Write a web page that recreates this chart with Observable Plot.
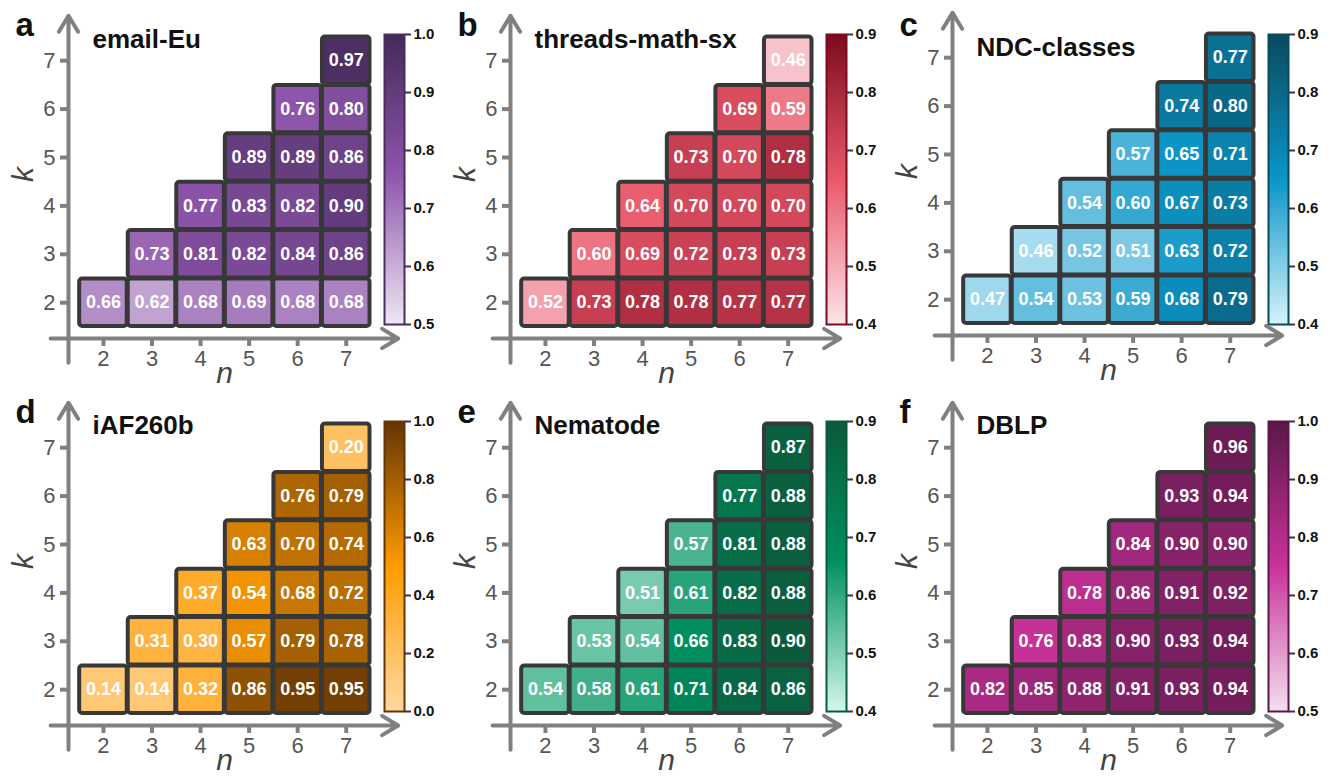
<!DOCTYPE html>
<html><head><meta charset="utf-8">
<script src="https://cdn.jsdelivr.net/npm/d3@7"></script>
<script src="https://cdn.jsdelivr.net/npm/@observablehq/plot@0.6"></script>
<style>
body{margin:0;background:#fff;}
#root{position:relative;width:1331px;height:776px;overflow:hidden;background:#fff;}
#root svg{position:absolute;}
</style></head><body><div id="root"></div>
<script>
// ---------- data ----------
const nValues = [2, 3, 4, 5, 6, 7];
const kValues = [2, 3, 4, 5, 6, 7];
const panelLetters = ["a", "b", "c", "d", "e", "f"];
const panelTitles = ["email-Eu", "threads-math-sx", "NDC-classes", "iAF260b", "Nematode", "DBLP"];
// each row is one k (2..7); the row lists n = k..7
const emailEu = [[0.66,0.62,0.68,0.69,0.68,0.68],[0.73,0.81,0.82,0.84,0.86],[0.77,0.83,0.82,0.90],[0.89,0.89,0.86],[0.76,0.80],[0.97]];
const threadsMathSx = [[0.52,0.73,0.78,0.78,0.77,0.77],[0.60,0.69,0.72,0.73,0.73],[0.64,0.70,0.70,0.70],[0.73,0.70,0.78],[0.69,0.59],[0.46]];
const ndcClasses = [[0.47,0.54,0.53,0.59,0.68,0.79],[0.46,0.52,0.51,0.63,0.72],[0.54,0.60,0.67,0.73],[0.57,0.65,0.71],[0.74,0.80],[0.77]];
const iAF260b = [[0.14,0.14,0.32,0.86,0.95,0.95],[0.31,0.30,0.57,0.79,0.78],[0.37,0.54,0.68,0.72],[0.63,0.70,0.74],[0.76,0.79],[0.20]];
const nematode = [[0.54,0.58,0.61,0.71,0.84,0.86],[0.53,0.54,0.66,0.83,0.90],[0.51,0.61,0.82,0.88],[0.57,0.81,0.88],[0.77,0.88],[0.87]];
const dblp = [[0.82,0.85,0.88,0.91,0.93,0.94],[0.76,0.83,0.90,0.93,0.94],[0.78,0.86,0.91,0.92],[0.84,0.90,0.90],[0.93,0.94],[0.96]];
const panelValues = [emailEu, threadsMathSx, ndcClasses, iAF260b, nematode, dblp];
const colorbarDomains = [[0.5,1.0],[0.4,0.9],[0.4,0.9],[0.0,1.0],[0.4,0.9],[0.5,1.0]];
const colorbarTicks = [
  [0.5,0.6,0.7,0.8,0.9,1.0],
  [0.4,0.5,0.6,0.7,0.8,0.9],
  [0.4,0.5,0.6,0.7,0.8,0.9],
  [0.0,0.2,0.4,0.6,0.8,1.0],
  [0.4,0.5,0.6,0.7,0.8,0.9],
  [0.5,0.6,0.7,0.8,0.9,1.0]
];

// ---------- styles ----------
const FONT = '"Liberation Sans", Arial, sans-serif';
const palettes = [
  {mid: 0.76, colors: ["#ede6f2", "#8d55ab", "#442a5a"], border: "#4a2c5e"},
  {mid: 0.65, colors: ["#fde4e8", "#e9586a", "#7c0a1e"], border: "#7c0a1e"},
  {mid: 0.65, colors: ["#d6f2fc", "#0b95c7", "#0a4a5d"], border: "#0a4a5d"},
  {mid: 0.50, colors: ["#ffd9a2", "#ff9b00", "#643505"], border: "#643505"},
  {mid: 0.66, colors: ["#d2f7eb", "#00905f", "#0b5a3c"], border: "#0b5a3c"},
  {mid: 0.75, colors: ["#f4dfee", "#c9329a", "#5b1748"], border: "#5b1748"}
];
const panelShiftY = [0, 0, -3, 0, 0, 0];
const titleBaseline = [47, 47, 58, 46, 46, 46];
const W = 440, H = 388;
const X_DOMAIN = [1.28, 7.5], Y_DOMAIN = [1.26, 7.5];
const axisLines = [
  {x1: 0.91, y1: 1.26, x2: 8.07, y2: 1.26},
  {x1: 1.28, y1: 0.76, x2: 1.28, y2: 7.93}
];
const AXIS_GREY = "#808080";
const root = document.getElementById("root");

function colorSpec(i) {
  const [lo, hi] = colorbarDomains[i];
  const p = palettes[i];
  return {type: "linear", domain: [lo, p.mid, hi], range: p.colors, clamp: true};
}

function mainPlot(i) {
  const cells = [];
  panelValues[i].forEach((row, r) => row.forEach((v, j) => cells.push({k: kValues[r], n: kValues[r] + j, v})));
  const fs = 26;
  return Plot.plot({
    width: W, height: H,
    marginLeft: 68, marginRight: 70, marginTop: 36, marginBottom: 50,
    style: {background: "transparent", overflow: "visible", fontFamily: FONT},
    x: {domain: X_DOMAIN},
    y: {domain: Y_DOMAIN},
    color: colorSpec(i),
    marks: [
      Plot.arrow(axisLines, {x1: "x1", y1: "y1", x2: "x2", y2: "y2", stroke: AXIS_GREY, strokeWidth: 4, headAngle: 62, headLength: 7}),
      Plot.axisX({ticks: nValues, tickSize: 8, tickPadding: 4, fontSize: 22, stroke: AXIS_GREY, fill: "#555", strokeWidth: 4, label: null, tickFormat: d => String(d)}),
      Plot.axisY({ticks: kValues, tickSize: 8, tickPadding: 5, fontSize: 22, stroke: AXIS_GREY, fill: "#555", strokeWidth: 4, label: null, tickFormat: d => String(d)}),
      Plot.rect(cells, {x1: d => d.n - 0.5, x2: d => d.n + 0.5, y1: d => d.k - 0.5, y2: d => d.k + 0.5, fill: "v", stroke: "#383838", strokeWidth: 4, inset: 0.5, rx: 3}),
      Plot.text(cells, {x: "n", y: "k", text: d => d.v.toFixed(2), fill: "white", fontWeight: "bold", fontSize: 18}),
      Plot.text([panelTitles[i]], {text: d => d, frameAnchor: "top-left", textAnchor: "start", lineAnchor: "middle", dx: 24, dy: titleBaseline[i] - 0.32 * fs - 36, fontSize: fs, fontWeight: "bold", fill: "#111"}),
      Plot.text([panelLetters[i]], {text: d => d, frameAnchor: "top-left", textAnchor: "start", lineAnchor: "middle", dx: -53, dy: 35 - 0.32 * 33 - 36 - panelShiftY[i], fontSize: 33, fontWeight: "bold", fill: "#111"}),
      Plot.text(["k"], {text: d => d, frameAnchor: "top-left", textAnchor: "middle", lineAnchor: "middle", rotate: -90, dx: -45, dy: 174 - 36, fontSize: 30, fontStyle: "italic", fill: "#444"}),
      Plot.text(["n"], {text: d => d, frameAnchor: "top-left", textAnchor: "middle", lineAnchor: "middle", dx: 224 - 68, dy: 382 - 0.32 * 30 - 36, fontSize: 30, fontStyle: "italic", fill: "#444"})
    ]
  });
}

function colorbarPlot(i) {
  const [lo, hi] = colorbarDomains[i];
  const N = 290;
  const slices = d3.range(N).map(j => ({y1: lo + (hi - lo) * j / N, y2: lo + (hi - lo) * (j + 1) / N, v: lo + (hi - lo) * (j + 0.5) / N}));
  return Plot.plot({
    width: W, height: H,
    marginLeft: 384, marginRight: 36, marginTop: 34, marginBottom: 64,
    style: {background: "transparent", overflow: "visible", fontFamily: FONT},
    x: {domain: [0, 1], axis: null},
    y: {domain: [lo, hi]},
    color: colorSpec(i),
    marks: [
      Plot.rect(slices, {x1: 0, x2: 1, y1: "y1", y2: "y2", fill: "v", shapeRendering: "crispEdges"}),
      Plot.frame({stroke: palettes[i].border, strokeWidth: 2}),
      Plot.axisY({anchor: "right", ticks: colorbarTicks[i], tickSize: 6, tickPadding: 3, tickFormat: d3.format(".1f"), fontSize: 15, fontWeight: "bold", stroke: "#3f2d5a", strokeWidth: 2, fill: "#111", label: null})
    ]
  });
}

for (let i = 0; i < 6; i++) {
  const col = i % 3, row = Math.floor(i / 3);
  const left = col * 442, top = row * 387;
  const cb = colorbarPlot(i);
  cb.style.left = left + "px"; cb.style.top = top + "px";
  root.appendChild(cb);
  const mp = mainPlot(i);
  mp.style.left = left + "px"; mp.style.top = (top + panelShiftY[i]) + "px";
  root.appendChild(mp);
}
</script></body></html>
